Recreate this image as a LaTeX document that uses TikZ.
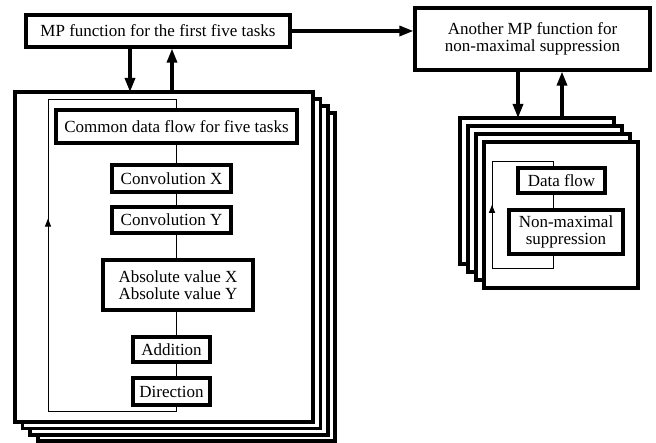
\documentclass[tikz,border=0pt]{standalone}
\usepackage{fontspec}
\setmainfont{Liberation Serif}
\usetikzlibrary{arrows.meta,decorations.markings}
\begin{document}
\begin{tikzpicture}[x=1pt,y=-1pt,
  font=\fontsize{17}{17}\selectfont,
  box/.style={draw,line width=3.2pt,fill=white,inner sep=0pt,align=center},
  sheet/.style={draw,line width=3.2pt,fill=white},
  flow/.style={line width=1pt},
  link/.style={line width=3.2pt,-{Triangle[length=14pt,width=10pt]}},
  upmark/.style={postaction={decorate},decoration={markings,
    mark=at position #1 with {\arrow{Triangle[length=8pt,width=6pt]}}}}]
\useasboundingbox (0,0) rectangle (656,443);

% top-level MP functions
\node[box,minimum width=264pt,minimum height=32pt] (mpa) at (158,31) {MP function for the first five tasks};
\node[box,minimum width=235pt,minimum height=62pt] (mpb) at (532.5,39)
  {Another MP function for\\non-maximal suppression};
\draw[link] (mpa.east) -- (mpb.west |- mpa.east);

% stacked processors, left group (front sheet at top left)
\draw[sheet] (38,113) rectangle (335,441);
\draw[sheet] (30,106) rectangle (328,435);
\draw[sheet] (22.5,99) rectangle (320.5,428.5);
\draw[sheet] (15,92) rectangle (313,422);
\coordinate (la) at (130,92);
\coordinate (lb) at (172,92);
\draw[link] (mpa.south -| la) -- (la);
\draw[link] (lb) -- (mpa.south -| lb);

% data flow loop of the left group
\coordinate (lx) at (176,0);
\coordinate (ltr) at (176,100);
\coordinate (ltl) at (48,100);
\coordinate (lbl) at (48,412);
\coordinate (lbr) at (176,412);
\node[box,minimum width=241pt,minimum height=33pt] (common) at (176.5,126.5) {Common data flow for five tasks};
\node[box,minimum width=119pt,minimum height=27pt] (convx) at (171.5,178.5) {Convolution X};
\node[box,minimum width=119pt,minimum height=26pt] (convy) at (171.5,220) {Convolution Y};
\node[box,minimum width=150pt,minimum height=50pt] (absv) at (178,285) {Absolute value X\\Absolute value Y};
\node[box,minimum width=77pt,minimum height=25pt] (addn) at (171.5,349.5) {Addition};
\node[box,minimum width=77pt,minimum height=27pt] (dirn) at (171.5,391.5) {Direction};
\draw[flow] (common.south -| lx) -- (convx.north -| lx);
\draw[flow] (convx.south -| lx) -- (convy.north -| lx);
\draw[flow] (convy.south -| lx) -- (absv.north -| lx);
\draw[flow] (absv.south -| lx) -- (addn.north -| lx);
\draw[flow] (addn.south -| lx) -- (dirn.north -| lx);
\draw[flow] (dirn.south -| lx) -- (lbr) -- (lbl);
\draw[flow,upmark=0.62] (lbl) -- (ltl);
\draw[flow] (ltl) -- (ltr) -- (common.north -| lx);

% stacked processors, right group (front sheet at bottom right)
\draw[sheet] (460,118) rectangle (614,264);
\draw[sheet] (468,126) rectangle (622,272);
\draw[sheet] (476,134) rectangle (630,280);
\draw[sheet] (484,142) rectangle (638,288);
\coordinate (ra) at (518,118);
\coordinate (rb) at (562,118);
\draw[link] (mpb.south -| ra) -- (ra);
\draw[link] (rb) -- (mpb.south -| rb);

% data flow loop of the right group
\coordinate (rx) at (553,0);
\coordinate (rtr) at (553,162);
\coordinate (rtl) at (492,162);
\coordinate (rbl) at (492,269);
\coordinate (rbr) at (553,269);
\node[box,minimum width=87pt,minimum height=25pt] (dflow) at (561.5,180.5) {Data flow};
\node[box,minimum width=114pt,minimum height=44pt] (nms) at (566,232) {Non-maximal\\suppression};
\draw[flow] (dflow.south -| rx) -- (nms.north -| rx);
\draw[flow] (nms.south -| rx) -- (rbr) -- (rbl);
\draw[flow,upmark=0.6] (rbl) -- (rtl);
\draw[flow] (rtl) -- (rtr) -- (dflow.north -| rx);
\end{tikzpicture}
\end{document}
